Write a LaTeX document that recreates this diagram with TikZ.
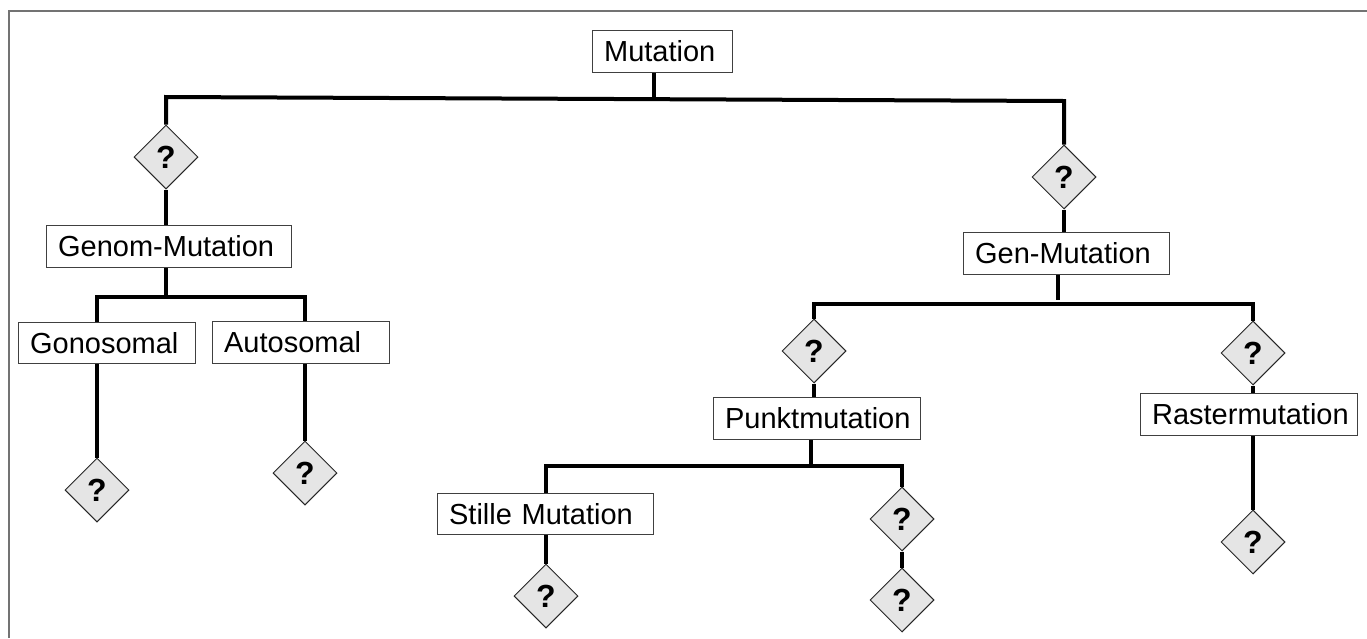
\documentclass[tikz,border=0pt]{standalone}
\usepackage{fontspec}
\setmainfont{Liberation Sans}
\usetikzlibrary{shapes.geometric}
\begin{document}
\begin{tikzpicture}[x=1pt,y=-1pt,
  box/.style={draw=black!75, line width=1.2pt, fill=white, inner xsep=11.5pt, inner ysep=0pt,
    minimum height=42pt, anchor=north west, align=left, font=\fontsize{29}{34}\selectfont},
  qbox/.style={shape=diamond, draw=black!85, line width=1pt, fill=black!10, minimum width=64pt,
    minimum height=64pt, inner sep=0pt, font=\fontsize{32}{36}\selectfont\bfseries},
  conn/.style={line width=4pt, black},
  frame/.style={line width=2pt, draw=black!55}]
\useasboundingbox (0,0) rectangle (1367,638);
\draw[frame] (9,638) -- (9,11) -- (1367,11);

% boxes
\node[box, text width=117pt] (mut) at (592,30) {Mutation};
\node[box, text width=222pt] (genom) at (46,225) {Genom-Mutation};
\node[box, text width=154pt, minimum height=41pt] (gono) at (18,322) {Gonosomal};
\node[box, text width=154pt] (auto) at (212,321) {Autosomal};
\node[box, text width=183pt] (gen) at (963,232) {Gen-Mutation};
\node[box, text width=184pt] (punkt) at (713,397) {Punktmutation};
\node[box, text width=194pt] (raster) at (1140,393) {Rastermutation};
\node[box, text width=193pt, minimum height=41pt] (stille) at (437,493) {Stille Mutation};

% diamonds
\node[qbox] (d1) at (166,157) {?};
\node[qbox] (dg) at (97,490) {?};
\node[qbox] (da) at (305,473) {?};
\node[qbox] (d2) at (1064,177) {?};
\node[qbox] (d3) at (814,351) {?};
\node[qbox] (d4) at (1253,353) {?};
\node[qbox] (d5) at (1253,542) {?};
\node[qbox] (ds) at (546,596) {?};
\node[qbox] (d6) at (902,519) {?};
\node[qbox] (d7) at (902,600) {?};

% junction coordinates
\coordinate (tl) at (166,97);
\coordinate (tr) at (1064,101);
\coordinate (jm) at (654,99.2);
\coordinate (jg) at (166,297);
\coordinate (jgenend) at (1058,300);
\coordinate (jgen) at (1058,304);
\coordinate (jp) at (811,466);

% connectors
\draw[conn] (mut.south -| jm) -- (jm);
\draw[conn] (d1.north) -- (tl) -- (tr) -- (d2.north);
\draw[conn] (d1.south) -- (d1.south |- genom.north);
\draw[conn] (genom.south -| jg) -- (jg);
\draw[conn] (gono.north -| dg.north) |- (jg) -| (auto.north -| da.north);
\draw[conn] (gono.south -| dg.north) -- (dg.north);
\draw[conn] (auto.south -| da.north) -- (da.north);
\draw[conn] (d2.south) -- (d2.south |- gen.north);
\draw[conn] (gen.south -| jgenend) -- (jgenend);
\draw[conn] (d3.north) |- (jgen) -| (d4.north);
\draw[conn] (d3.south) -- (d3.south |- punkt.north);
\draw[conn] (punkt.south -| jp) -- (jp);
\draw[conn] (stille.north -| ds.north) |- (jp) -| (d6.north);
\draw[conn] (stille.south -| ds.north) -- (ds.north);
\draw[conn] (d4.south) -- (d4.south |- raster.north);
\draw[conn] (raster.south -| d5.north) -- (d5.north);
\draw[conn] (d6.south) -- (d7.north);
\end{tikzpicture}
\end{document}
